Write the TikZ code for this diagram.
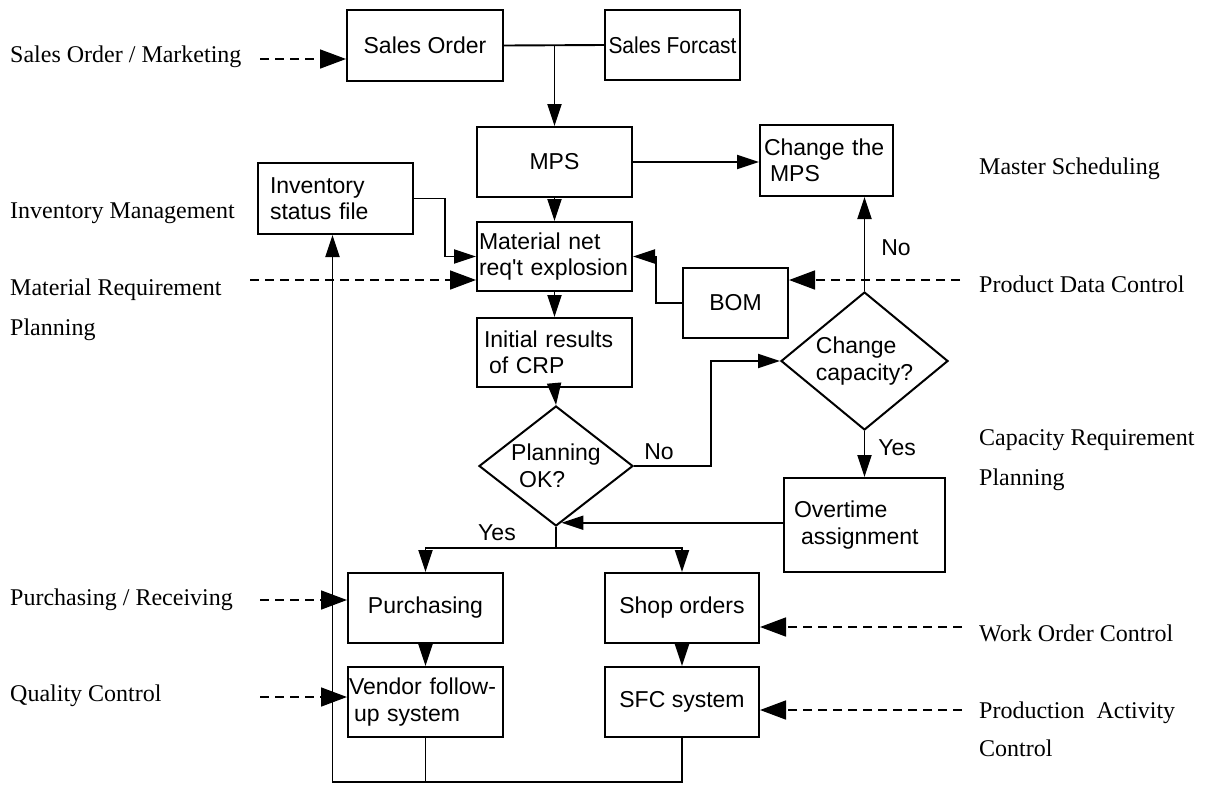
\documentclass[tikz,border=0pt]{standalone}
\usepackage{fontspec}
\setmainfont{Liberation Serif}
\newfontfamily\arialf{Liberation Sans}
\newfontfamily\arialn[FakeStretch=0.91]{Liberation Sans}
\usetikzlibrary{arrows.meta,shapes.geometric,calc}
\newcommand\boxfont{\arialf\fontsize{23}{26.5}\selectfont}
\newcommand\labfont{\fontsize{24}{39}\selectfont}
\tikzset{
  box/.style={draw, line width=2pt, font=\boxfont, inner sep=0pt, align=center},
  dia/.style={draw, diamond, line width=2pt, font=\boxfont, inner sep=0pt, align=left},
  arr/.style={line width=1.9pt, -{Triangle[length=22pt,width=14pt]}},
  ln/.style={line width=1.9pt},
  darr/.style={line width=1.6pt, dash pattern=on 9pt off 6pt, -{Triangle[length=26pt,width=19pt]}},
  lab/.style={font=\labfont, anchor=base west, inner sep=0pt},
  yn/.style={font=\boxfont, inner sep=0pt},
}
\begin{document}
\begin{tikzpicture}[x=1pt,y=-1pt]
\useasboundingbox (0,0) rectangle (1206,785);
% boxes
\node[box, minimum width=156, minimum height=71] (so) at (425,45.5) {Sales Order};
\node[box, minimum width=135, minimum height=70, font=\arialn\fontsize{23}{26.5}\selectfont] (sf) at (672.5,45) {Sales Forcast};
\node[box, minimum width=155, minimum height=70] (mps) at (554.5,162) {MPS};
\node[box, minimum width=133, minimum height=71, align=left, text width=125pt, inner xsep=4pt] (cmps) at (826.5,160.5) {Change the\\\hspace*{6pt}MPS};
\node[box, minimum width=155, minimum height=71, align=left, text width=131pt, inner xsep=12pt] (inv) at (335.5,198.5) {Inventory\\status file};
\node[box, minimum width=155, minimum height=69, align=left, text width=151pt, inner xsep=2pt] (mat) at (554.5,256.5) {Material net\\req't explosion};
\node[box, minimum width=105, minimum height=70] (bom) at (735.5,303) {BOM};
\node[box, minimum width=155, minimum height=69, align=left, text width=141pt, inner xsep=7pt] (init) at (554.5,352.5) {Initial results\\\hspace*{5pt}of CRP};
\node[dia, minimum width=154, minimum height=120, aspect=1.28] (pok) at (556,466) {Planning\\\hspace*{8pt}OK?};
\node[dia, minimum width=167, minimum height=138, aspect=1.21] (cc) at (864.5,361) {Change\\capacity?};
\node[box, minimum width=161, minimum height=94, align=left, text width=141pt, inner xsep=10pt] (ot) at (864.5,525) {Overtime\\\hspace*{7pt}assignment};
\node[box, minimum width=155, minimum height=70] (pur) at (425.5,608) {Purchasing};
\node[box, minimum width=154, minimum height=70] (shop) at (682,608) {Shop orders};
\node[box, minimum width=155, minimum height=70, align=left, text width=153pt, inner xsep=1pt] (ven) at (425.5,702) {Vendor follow-\\\hspace*{5pt}up system};
\node[box, minimum width=154, minimum height=70] (sfc) at (682,702) {SFC system};
% labels left
\node[lab] (l1) at (10,62) {Sales Order / Marketing};
\node[lab] (l2) at (10,218) {Inventory Management};
\node[lab] (l3) at (10,295) {Material Requirement};
\node[lab] (l3b) at (10,335) {Planning};
\node[lab] (l4) at (10,605) {Purchasing / Receiving};
\node[lab] (l5) at (10,701) {Quality Control};
% labels right
\node[lab] (r1) at (979,174) {Master Scheduling};
\node[lab] (r2) at (979,292) {Product Data Control};
\node[lab] (r3) at (979,445) {Capacity Requirement};
\node[lab] (r3b) at (979,485) {Planning};
\node[lab] (r4) at (979,641) {Work Order Control};
\node[lab] (r5) at (979,718) {Production\ \ Activity};
\node[lab] (r5b) at (979,756) {Control};
% yes/no
\node[yn] (no1) at (896,248) {No};
\node[yn] (yes1) at (897,448) {Yes};
\node[yn] (no2) at (659,452) {No};
\node[yn] (yes2) at (497,533) {Yes};
% coordinates for free ends
\coordinate (dsm) at (260,59);
\coordinate (dmrp) at (250,280);
\coordinate (dpur) at (260,600);
\coordinate (dqc) at (260,697);
\coordinate (dpdc) at (960,280);
\coordinate (dwoc) at (962,627);
\coordinate (dpac) at (962,710);
% connectors
\draw[ln] (so.east) -- (sf.west);
\coordinate (j1) at (so.east -| mps.north);
\draw[arr] (j1) -- (mps.north);
\draw[arr] (mps.south) -- (mat.north);
\draw[arr] (mps.east) -- (mps.east -| cmps.west);
\draw[arr] (inv.east) -- ++(31,0) |- (mat.west);
\draw[arr] (bom.west) -- ++(-26,0) |- (mat.east);
\draw[arr] (mat.south) -- (init.north);
\draw[arr] (init.south) -- (pok.north);
\draw[arr] (cc.north) -- (cc.north |- cmps.south);
\draw[arr] (cc.south) -- (ot.north);
\draw[arr] (pok.east) -- ++(77,0) |- (cc.west);
\coordinate (tgt) at ($(pok.south)!0.07!(pok.east)$);
\draw[arr] (ot.west |- tgt) -- (tgt);
\draw[ln] (pok.south) -- ++(0,21) coordinate (yj);
\draw[arr] (yj) -| (pur.north);
\draw[arr] (yj) -| (shop.north);
\draw[arr] (pur.south) -- (ven.north);
\draw[arr] (shop.south) -- (sfc.north);
\coordinate (bl) at ($(inv.south |- 0,782)+(-3,0)$);
\draw[ln] (ven.south) -- (ven.south |- bl);
\draw[arr] (sfc.south) |- (bl) -- (bl |- inv.south);
% dashed inputs
\draw[darr] (dsm) -- (dsm -| so.west);
\draw[darr] (dmrp) -- (dmrp -| mat.west);
\draw[darr] (dpur) -- (dpur -| pur.west);
\draw[darr] (dqc) -- (dqc -| ven.west);
\draw[darr] (dpdc) -- (dpdc -| bom.east);
\draw[darr] (dwoc) -- (dwoc -| shop.east);
\draw[darr] (dpac) -- (dpac -| sfc.east);
\end{tikzpicture}
\end{document}
